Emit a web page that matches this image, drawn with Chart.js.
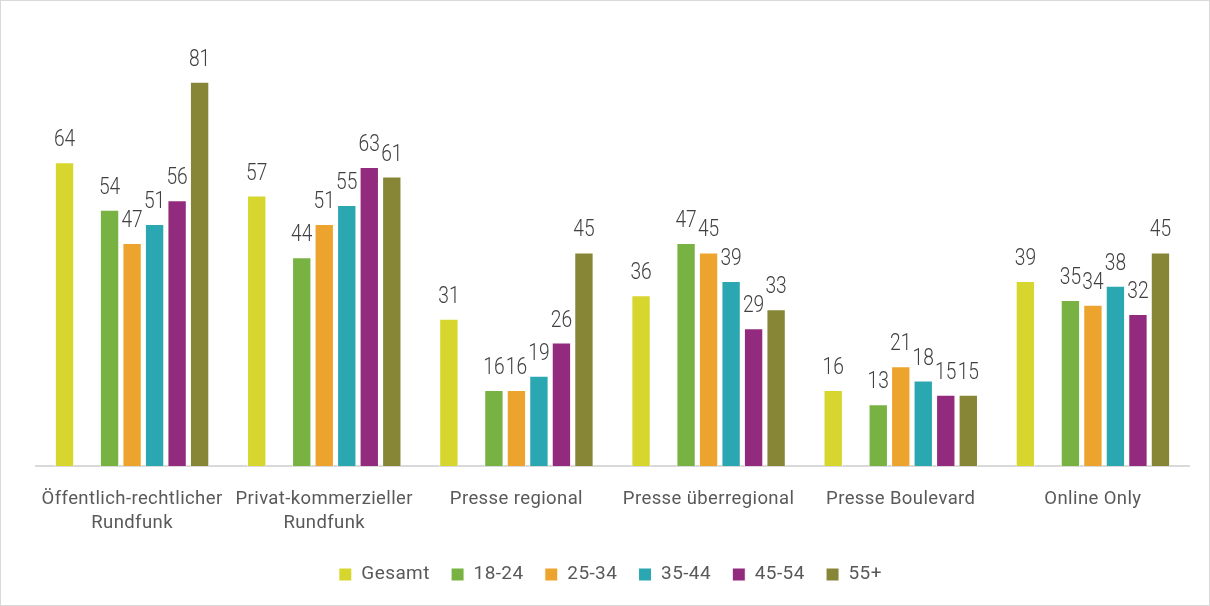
<!DOCTYPE html>
<html>
<head>
<meta charset="utf-8">
<script src="https://cdn.jsdelivr.net/npm/chart.js@4.4.1/dist/chart.umd.min.js"></script>
<style>
  html, body { margin: 0; padding: 0; background: #fff; }
  #wrap { width: 1208px; height: 604px; border: 1px solid #d9d9d9; }
</style>
</head>
<body>
<div id="wrap"><canvas id="myChart" width="1208" height="604"></canvas></div>
<script>
// Kategorien und Werte (in %)
const kategorien = [
  ['Öffentlich-rechtlicher', 'Rundfunk'],
  ['Privat-kommerzieller', 'Rundfunk'],
  'Presse regional',
  'Presse überregional',
  'Presse Boulevard',
  'Online Only'
];
const gesamt = [64, 57, 31, 36, 16, 39];
const alter1824 = [54, 44, 16, 47, 13, 35];
const alter2534 = [47, 51, 16, 45, 21, 34];
const alter3544 = [51, 55, 19, 39, 18, 38];
const alter4554 = [56, 63, 26, 29, 15, 32];
const alter55 = [81, 61, 45, 33, 15, 45];

const schrift = 'Roboto, "DejaVu Sans", sans-serif';

// etwas Laufweite, damit die Schrift breiter wirkt
const laufweite = {
  id: 'laufweite',
  beforeLayout(chart) { chart.ctx.letterSpacing = '0.4px'; },
  beforeDraw(chart) { chart.ctx.letterSpacing = '0.4px'; }
};

// Werte über die Balken schreiben (schmal gestaucht wie im Original)
const wertePlugin = {
  id: 'werte',
  afterDatasetsDraw(chart) {
    const ctx = chart.ctx;
    ctx.save();
    ctx.letterSpacing = '0px';
    ctx.font = '300 24px ' + schrift;
    ctx.fillStyle = '#404040';
    ctx.textAlign = 'center';
    ctx.textBaseline = 'alphabetic';
    chart.data.datasets.forEach((ds, i) => {
      if (!ds.label) return;
      const meta = chart.getDatasetMeta(i);
      meta.data.forEach((bar, j) => {
        ctx.save();
        ctx.translate(bar.x, bar.y - 16);
        ctx.scale(0.8, 1);
        ctx.fillText(ds.data[j], 0, 0);
        ctx.restore();
      });
    });
    ctx.restore();
  }
};

function balken(label, data, farbe) {
  return {
    label: label,
    data: data,
    backgroundColor: farbe,
    borderColor: '#ffffff',
    borderWidth: 1,
    categoryPercentage: 0.82,
    barPercentage: 0.86
  };
}

const data = {
  labels: kategorien,
  datasets: [
    balken('Gesamt', gesamt, '#d7d62e'),
    balken('', [null, null, null, null, null, null], 'rgba(0,0,0,0)'),
    balken('18-24', alter1824, '#78b242'),
    balken('25-34', alter2534, '#eda42e'),
    balken('35-44', alter3544, '#2aa7b1'),
    balken('45-54', alter4554, '#922a7e'),
    balken('55+', alter55, '#868636')
  ]
};

const config = {
  type: 'bar',
  data: data,
  options: {
    responsive: false,
    animation: false,
    layout: { padding: { left: 35, right: 20, top: 38, bottom: 11 } },
    plugins: {
      legend: {
        position: 'bottom',
        labels: {
          filter: (item) => item.text !== '',
          generateLabels(chart) {
            const items = Chart.defaults.plugins.legend.labels.generateLabels(chart);
            items.forEach((it) => { if (it.text) it.text = it.text + '\u2009'; });
            return items;
          },
          boxWidth: 13,
          boxHeight: 13,
          padding: 17,
          color: '#595959',
          font: { family: schrift, size: 19 }
        }
      },
      tooltip: { enabled: false }
    },
    scales: {
      x: {
        grid: { display: false },
        border: { color: '#d9d9d9', width: 2 },
        ticks: {
          color: '#595959',
          font: { family: schrift, size: 18.5, lineHeight: 1.3 },
          padding: 13,
          maxRotation: 0
        }
      },
      y: {
        display: false,
        min: 0,
        max: 90
      }
    }
  },
  plugins: [laufweite, wertePlugin]
};

const myChart = new Chart(document.getElementById('myChart'), config);
</script>
</body>
</html>
